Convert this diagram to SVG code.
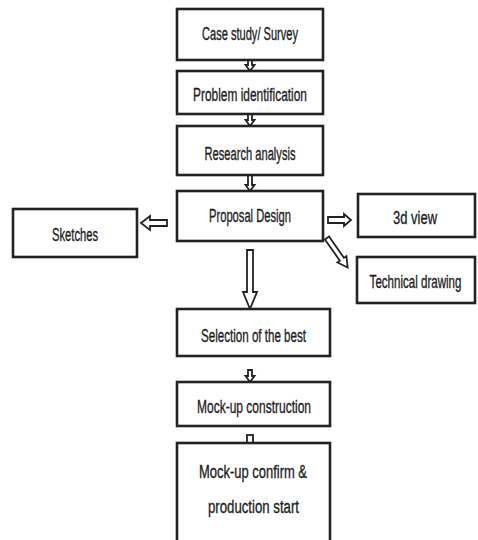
<svg xmlns="http://www.w3.org/2000/svg" width="478" height="540" viewBox="0 0 478 540">
<style>
.box{fill:#fff;stroke:#222;stroke-width:2.6}
.lbl{font-family:"Liberation Sans",Arial,sans-serif;font-size:18px;fill:#1e1e1e;stroke:#1e1e1e;stroke-width:0.35;text-anchor:middle}
.arr{fill:#fff;stroke:#222;stroke-width:1.8;stroke-linejoin:miter}
</style>
<rect width="478" height="540" fill="#fff"/>
<g id="connectors">
<polygon class="arr" points="248,60 252,60 252,65 254.5,65 250,71 245.5,65 248,65"/>
<polygon class="arr" points="248,114 252,114 252,120 254.5,120 250,126 245.5,120 248,120"/>
<polygon class="arr" points="248,175 252,175 252,185 254.5,185 250,191 245.5,185 248,185"/>
<polygon class="arr" points="141,223 150,216 150,220 167,220 167,226 150,226 150,230"/>
<polygon class="arr" points="328,217 344,217 344,214 351,220 344,226 344,223 328,223"/>
<polygon class="arr" transform="translate(327,238) rotate(55)" points="0,-2.5 26,-2.5 26,-5.5 36,0 26,5.5 26,2.5 0,2.5"/>
<polygon class="arr" points="247,250 253,250 253,292 257,292 250,309 243,292 247,292"/>
<polygon class="arr" points="248,370 252,370 252,376 254.5,376 250,382 245.5,376 248,376"/>
<rect class="arr" x="247" y="435" width="6" height="8"/>
</g>
<g id="case-study"><rect class="box" x="177" y="9" width="146" height="51"/><text class="lbl" x="250" y="40" textLength="96" lengthAdjust="spacingAndGlyphs">Case study/ Survey</text></g>
<g id="problem"><rect class="box" x="177" y="71" width="146" height="43"/><text class="lbl" x="250" y="101" textLength="114" lengthAdjust="spacingAndGlyphs">Problem identification</text></g>
<g id="research"><rect class="box" x="177" y="126" width="146" height="49"/><text class="lbl" x="250" y="160" textLength="91" lengthAdjust="spacingAndGlyphs">Research analysis</text></g>
<g id="proposal"><rect class="box" x="177" y="191" width="146" height="50"/><text class="lbl" x="250" y="222" textLength="82" lengthAdjust="spacingAndGlyphs">Proposal Design</text></g>
<g id="sketches"><rect class="box" x="13" y="209" width="124" height="48"/><text class="lbl" x="75" y="241" textLength="46" lengthAdjust="spacingAndGlyphs">Sketches</text></g>
<g id="view3d"><rect class="box" x="358" y="194" width="117" height="43"/><text class="lbl" x="415" y="224" textLength="44" lengthAdjust="spacingAndGlyphs">3d view</text></g>
<g id="technical"><rect class="box" x="357" y="257" width="118" height="46"/><text class="lbl" transform="translate(415.5,288) scale(0.62,1)" x="0" y="0" textLength="148" lengthAdjust="spacingAndGlyphs">Technical drawing</text></g>
<g id="selection"><rect class="box" x="177" y="309" width="153" height="47"/><text class="lbl" x="253.5" y="342" textLength="105" lengthAdjust="spacingAndGlyphs">Selection of the best</text></g>
<g id="mockup"><rect class="box" x="177" y="382" width="153" height="44"/><text class="lbl" x="254" y="413" textLength="114" lengthAdjust="spacingAndGlyphs">Mock-up construction</text></g>
<g id="confirm"><rect class="box" x="177" y="443" width="153" height="105"/><text class="lbl" x="253" y="478" textLength="108" lengthAdjust="spacingAndGlyphs">Mock-up confirm &amp;</text><text class="lbl" x="253.5" y="513" textLength="91" lengthAdjust="spacingAndGlyphs">production start</text></g>
</svg>
